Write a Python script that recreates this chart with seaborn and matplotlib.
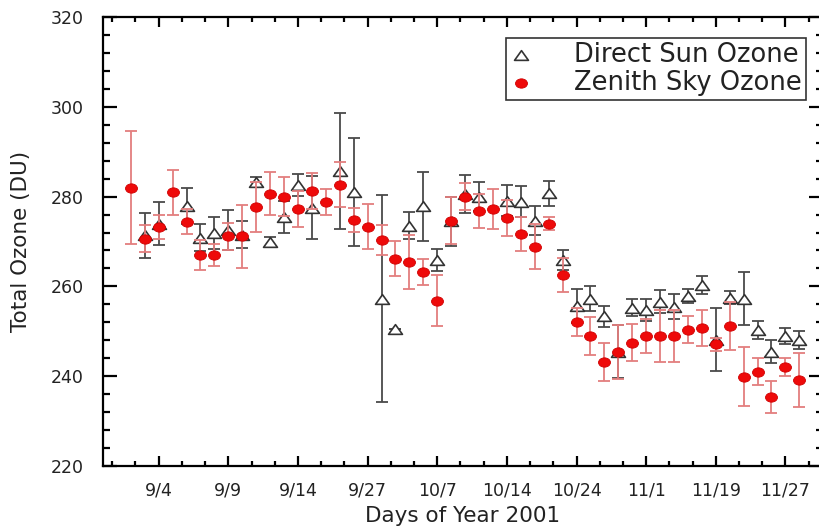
import numpy as np
import pandas as pd
import matplotlib
matplotlib.use("Agg")
import matplotlib.pyplot as plt
from matplotlib.path import Path
from matplotlib.transforms import Affine2D
from matplotlib.ticker import FixedLocator, MultipleLocator
import seaborn as sns

# Measurement days (one column per observing day), labelled every fifth day
tick_labels = ["9/4", "9/9", "9/14", "9/27", "10/7", "10/14",
               "10/24", "11/1", "11/19", "11/27"]

zenith_sky = [282.0, 270.6, 273.3, 281.0, 274.4, 267.0, 267.0, 271.2, 271.2, 277.7,
              280.6, 280.0, 277.3, 281.3, 278.9, 282.6, 274.8, 273.3, 270.3, 266.2,
              265.4, 263.2, 256.8, 274.6, 280.0, 276.8, 277.2, 275.3, 271.6, 268.8,
              274.0, 262.5, 252.1, 249.0, 243.1, 245.4, 247.5, 249.0, 249.0, 249.0,
              250.3, 250.7, 247.1, 251.2, 239.9, 241.0, 235.4, 242.0, 239.2]
zenith_sky_err = [12.5, 3.0, 2.7, 5.0, 2.8, 3.3, 2.5, 3.0, 7.0, 5.5,
                  4.8, 4.3, 4.0, 4.0, 2.9, 5.0, 2.6, 5.0, 3.3, 3.8,
                  6.0, 2.8, 5.7, 5.2, 3.0, 3.7, 4.5, 4.0, 3.8, 5.0,
                  1.5, 3.8, 3.2, 4.2, 4.2, 6.0, 4.2, 3.8, 5.8, 5.8,
                  3.0, 4.0, 1.5, 5.4, 6.6, 3.0, 3.6, 2.0, 6.0]

direct_sun = [np.nan, 271.4, 274.0, np.nan, 278.0, 270.8, 271.9, 272.6, 271.5, 283.3,
              269.9, 275.5, 282.6, 277.5, np.nan, 285.7, 281.1, np.nan, 257.3, 250.5,
              273.5, 277.8, 265.9, 274.5, 280.5, 280.0, np.nan, 279.1, 278.9, 274.6,
              280.7, 265.9, 255.6, 257.3, 253.3, 245.5, 255.3, 254.7, 256.6, 255.5,
              257.9, 260.3, 248.1, 257.5, 257.3, 250.3, 245.5, 249.0, 248.0]
direct_sun_err = [np.nan, 5.0, 4.8, np.nan, 4.0, 3.0, 3.5, 4.5, 3.0, 1.0,
                  1.0, 3.5, 2.5, 7.0, np.nan, 13.0, 12.0, np.nan, 23.0, 0.0,
                  3.0, 7.7, 2.5, 5.5, 4.2, 3.2, np.nan, 3.5, 3.5, 3.2,
                  2.7, 2.2, 3.8, 2.7, 2.4, 6.0, 2.0, 2.5, 2.6, 2.7,
                  1.5, 2.0, 7.0, 1.5, 5.8, 2.0, 2.5, 1.8, 2.0]

df = pd.DataFrame({
    "day": np.arange(len(zenith_sky)),
    "zenith": zenith_sky,
    "zenith_err": zenith_sky_err,
    "direct": direct_sun,
    "direct_err": direct_sun_err,
})

sns.set_style("ticks")
plt.rcParams["font.family"] = ["DejaVu Sans"]
plt.rcParams["axes.edgecolor"] = "black"
plt.rcParams["axes.linewidth"] = 1.6

fig = plt.figure(figsize=(8.19, 5.31), dpi=100)
ax = fig.add_axes([103 / 819, 65 / 531, 720 / 819, 449 / 531])

# Slightly flattened marker shapes
ellipse = Path.unit_circle().transformed(Affine2D().scale(1.0, 0.78))
triangle = Path([(0, 0.7), (-1, -0.7), (1, -0.7), (0, 0.7)],
                [Path.MOVETO, Path.LINETO, Path.LINETO, Path.CLOSEPOLY])

# Direct sun: open triangles with dark error bars
ax.errorbar(df["day"], df["direct"], yerr=df["direct_err"], fmt="none",
            ecolor="#4a4a4a", elinewidth=1.3, capsize=4.3, capthick=1.3, zorder=2)
sns.scatterplot(data=df, x="day", y="direct", marker=triangle, s=100,
                facecolor="white", edgecolor="#333333", linewidth=1.2,
                label="Direct Sun Ozone", ax=ax, zorder=3)

# Zenith sky: filled red circles with light red error bars
ax.errorbar(df["day"], df["zenith"], yerr=df["zenith_err"], fmt="none",
            ecolor="#e37e7e", elinewidth=1.3, capsize=4.3, capthick=1.3, zorder=4)
sns.scatterplot(data=df, x="day", y="zenith", marker=ellipse, s=74,
                color="#ee0a0a", edgecolor="#d00000", linewidth=0.6,
                label="Zenith Sky Ozone", ax=ax, zorder=5)

ax.set_xlim(-2, 49.7)
ax.set_ylim(220, 320)

major_pos = [2 + 5 * k for k in range(len(tick_labels))]
ax.xaxis.set_major_locator(FixedLocator(major_pos))
ax.set_xticklabels(tick_labels)
ax.xaxis.set_minor_locator(FixedLocator(np.arange(2 - 2 * 5 / 3, 50, 5 / 3)))
ax.yaxis.set_major_locator(MultipleLocator(20))
ax.yaxis.set_minor_locator(MultipleLocator(4))

ax.tick_params(axis="both", which="both", direction="in", top=True, right=True,
               width=1.6, color="black", labelsize=12.5)
ax.tick_params(axis="y", which="major", length=10, pad=14)
ax.tick_params(axis="y", which="minor", length=5)
ax.tick_params(axis="x", which="major", length=7, pad=11)
ax.tick_params(axis="x", which="minor", length=3.5)
for lab in ax.get_xticklabels() + ax.get_yticklabels():
    lab.set_color("#222222")

ax.set_xlabel("Days of Year 2001", fontsize=15.5, labelpad=5, color="#222222")
ax.set_ylabel("Total Ozone (DU)", fontsize=15.5, labelpad=14, color="#222222")

leg = ax.legend(loc="upper right", bbox_to_anchor=(0.976, 0.953), borderaxespad=0,
                fontsize=18.5, frameon=True, fancybox=False, edgecolor="black",
                borderpad=0.15, handlelength=0.875, handletextpad=1.62,
                labelspacing=0.08)
leg.get_frame().set_linewidth(1.2)
for t in leg.get_texts():
    t.set_color("#222222")

fig.savefig("out.png", dpi=100)
